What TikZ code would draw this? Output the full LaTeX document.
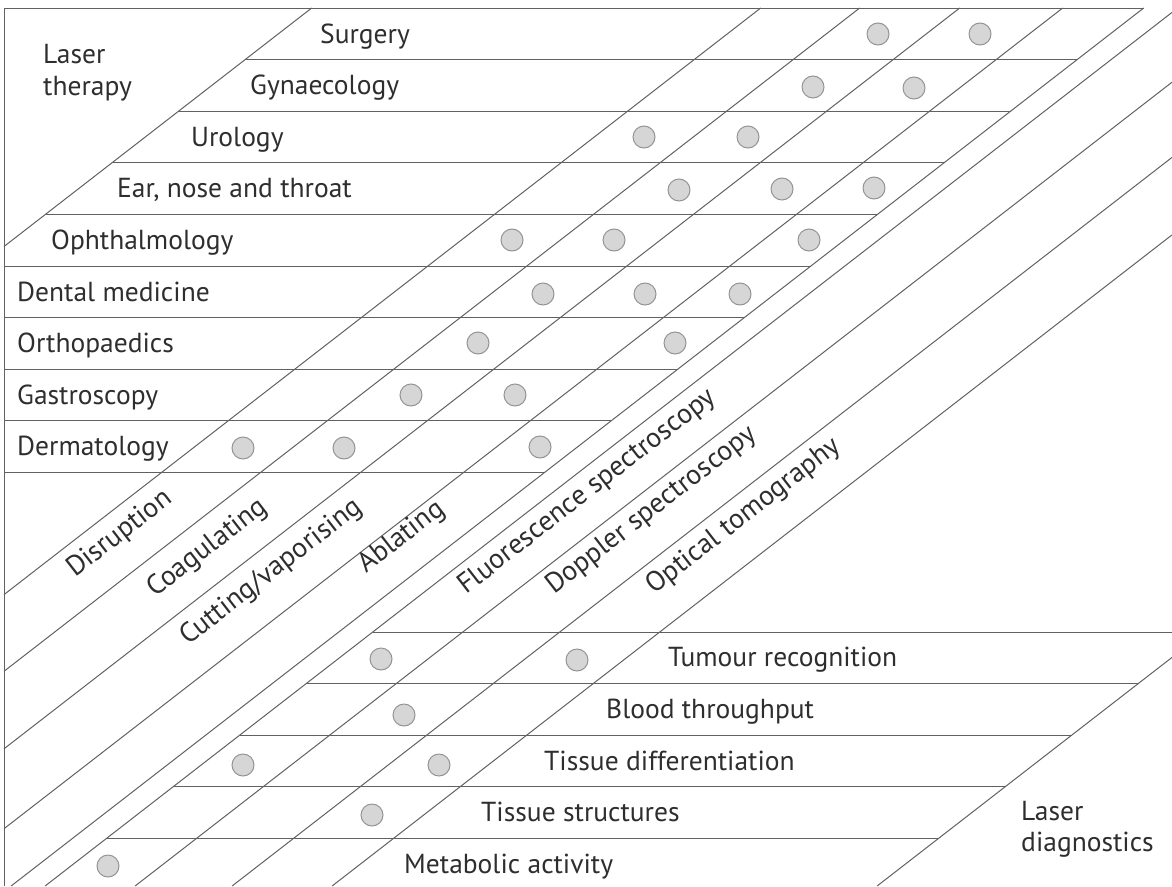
\documentclass[tikz,border=0pt]{standalone}
\usepackage{fontspec}
\setmainfont{PT Sans}
\begin{document}
\begin{tikzpicture}[x=1pt,y=-1pt,
    rule/.style={draw=black!62, line width=1pt},
    dot/.style={circle, draw=black!42, fill=black!16, line width=1pt, minimum size=22pt, inner sep=0pt},
    rowlbl/.style={anchor=base west, inner sep=0pt, text=black!82, font=\fontsize{27.5}{33}\selectfont},
    methlbl/.style={anchor=base west, inner sep=0pt, rotate=37.8, text=black!82, font=\fontsize{28}{33}\selectfont}]
    \useasboundingbox (0,0) rectangle (1172,886);
    \clip (0,0) rectangle (1172,886);
    \draw[rule] (4,886) -- (4,8) -- (1143.7,8);
    \draw[rule] (311.7,8) -- (4,246.5);
    \draw[rule] (245.1,59.6) -- (1077.1,59.6);
    \draw[rule] (178.6,111.2) -- (1010.6,111.2);
    \draw[rule] (112,162.8) -- (944,162.8);
    \draw[rule] (45.4,214.4) -- (877.4,214.4);
    \draw[rule] (4,266) -- (810.9,266);
    \draw[rule] (4,317.6) -- (744.3,317.6);
    \draw[rule] (4,369.2) -- (677.7,369.2);
    \draw[rule] (4,420.8) -- (611.2,420.8);
    \draw[rule] (4,472.4) -- (544.6,472.4);
    \draw[rule] (760.7,8) -- (4,594.6);
    \draw[rule] (859.7,8) -- (4,671.3);
    \draw[rule] (959.7,8) -- (4,748.8);
    \draw[rule] (1062.7,8) -- (4,828.7);
    \draw[rule] (1143.7,8) -- (11.1,886);
    \draw[rule] (1172,12.4) -- (45.1,886);
    \draw[rule] (1172,82.2) -- (135.1,886);
    \draw[rule] (1172,157.4) -- (232.1,886);
    \draw[rule] (1172,234.9) -- (332.1,886);
    \draw[rule] (1172,657.4) -- (877.1,886);
    \draw[rule] (372.7,632) -- (1172,632);
    \draw[rule] (306.2,683.6) -- (1138.2,683.6);
    \draw[rule] (239.6,735.2) -- (1071.6,735.2);
    \draw[rule] (173,786.8) -- (1005,786.8);
    \draw[rule] (106.5,838.4) -- (938.5,838.4);

    \node[rowlbl] (ther1) at (43,63) {Laser};
    \node[rowlbl] (ther2) at (43,95) {therapy};
    \node[rowlbl] (surg) at (320,43) {Surgery};
    \node[rowlbl] (gyn) at (250,94.5) {Gynaecology};
    \node[rowlbl] (uro) at (191,146) {Urology};
    \node[rowlbl] (ent) at (117,197.5) {Ear, nose and throat};
    \node[rowlbl] (oph) at (51,249) {Ophthalmology};
    \node[rowlbl] (dent) at (17,301) {Dental medicine};
    \node[rowlbl] (orth) at (17,352.5) {Orthopaedics};
    \node[rowlbl] (gast) at (17,404) {Gastroscopy};
    \node[rowlbl] (derm) at (17,455.5) {Dermatology};

    \node[methlbl] (disr) at (75,578) {Disruption};
    \node[methlbl] (coag) at (155,598) {Coagulating};
    \node[methlbl] (cutv) at (188,646) {Cutting/vaporising};
    \node[methlbl] (abla) at (366,574) {Ablating};
    \node[methlbl] (fluo) at (466,595) {Fluorescence spectroscopy};
    \node[methlbl] (dopp) at (554,595) {Doppler spectroscopy};
    \node[methlbl] (octo) at (654,595) {Optical tomography};

    \node[rowlbl] (tumr) at (668,666) {Tumour recognition};
    \node[rowlbl] (blod) at (606,718) {Blood throughput};
    \node[rowlbl] (tdif) at (544,770) {Tissue differentiation};
    \node[rowlbl] (tstr) at (481,821) {Tissue structures};
    \node[rowlbl] (meta) at (404,873) {Metabolic activity};
    \node[rowlbl] (diag1) at (1021,820) {Laser};
    \node[rowlbl] (diag2) at (1021,851) {diagnostics};

    \foreach \px/\py [count=\i] in {878/34, 980/34, 813/87, 914/88, 644/137, 748/137,
        679/190, 782/189, 874/188, 512/240, 614/240, 809/240, 543/294, 645/294, 740/294,
        478/343, 675/343, 411/395, 515/395, 243/448, 344/448, 540/447,
        381/659, 577/660, 404/715, 243/765, 439/765, 372/815, 108/866}
      \node[dot] (dot\i) at (\px,\py) {};
\end{tikzpicture}
\end{document}
